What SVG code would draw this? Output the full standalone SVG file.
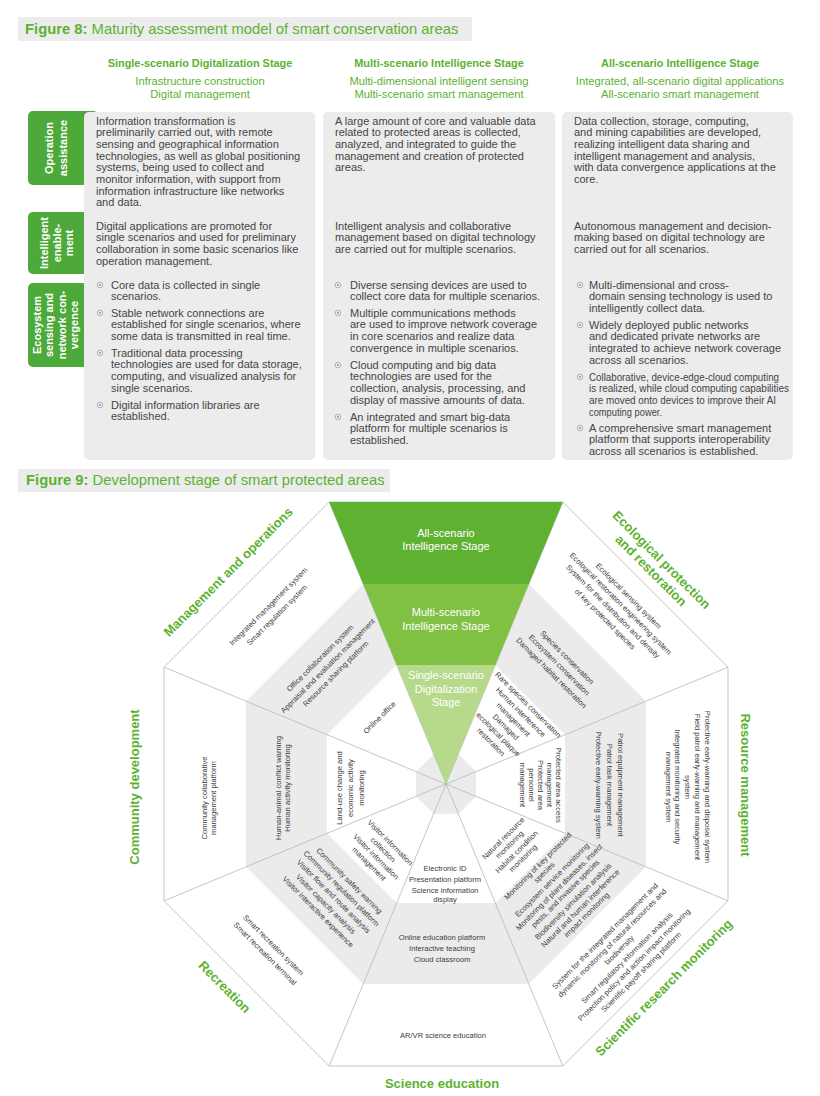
<svg xmlns="http://www.w3.org/2000/svg" width="820" height="1096" viewBox="0 0 820 1096">
<style>
text{font-family:"Liberation Sans",Arial,sans-serif}
.ttl{font-size:14.8px;fill:#5cb230}
.ttl tspan.b{font-weight:bold}
.hdr{font-size:10.9px;font-weight:bold;fill:#5cb230;text-anchor:middle}
.sub{font-size:11.2px;fill:#5cb230;text-anchor:middle}
.body{font-size:11px;fill:#454545}
.tab{font-size:11px;font-weight:bold;fill:#fff;text-anchor:middle;dominant-baseline:central}
.box{fill:#ececec}
.tabr{fill:#4daa3a}
.bul{fill:none;stroke:#9a9a9a;stroke-width:0.7}
.buld{fill:#9a9a9a}
.it{font-size:7.6px;fill:#3c3c3c;text-anchor:middle;dominant-baseline:central}
.lab{font-size:13px;font-weight:bold;fill:#5cb230;text-anchor:middle;dominant-baseline:central}
.tri{font-size:11px;fill:#fff;text-anchor:middle;dominant-baseline:central}
.ln{stroke:#b8b8b8;stroke-width:0.8;fill:none}
</style>

<!-- Figure 8 -->
<g id="fig8-title">
<rect x="18" y="17" width="454" height="24" fill="#ececec"/>
<text class="ttl" x="25" y="34"><tspan class="b">Figure 8:</tspan> Maturity assessment model of smart conservation areas</text>
</g>
<g id="col-headers">
<text class="hdr" x="200" y="67">Single-scenario Digitalization Stage</text>
<text class="sub" x="200" y="85">Infrastructure construction</text>
<text class="sub" x="200" y="98">Digital management</text>
<text class="hdr" x="439" y="67">Multi-scenario Intelligence Stage</text>
<text class="sub" x="439" y="85">Multi-dimensional intelligent sensing</text>
<text class="sub" x="439" y="98">Multi-scenario smart management</text>
<text class="hdr" x="680" y="67">All-scenario Intelligence Stage</text>
<text class="sub" x="680" y="85">Integrated, all-scenario digital applications</text>
<text class="sub" x="680" y="98">All-scenario smart management</text>
</g>
<g id="row-tabs">
<rect class="tabr" x="28" y="111" width="70" height="74" rx="5"/>
<text class="tab" transform="translate(49,148) rotate(-90)">Operation</text>
<text class="tab" transform="translate(63,148) rotate(-90)">assistance</text>
<rect class="tabr" x="28" y="212" width="62" height="62" rx="5"/>
<text class="tab" transform="translate(44,243) rotate(-90)">Intelligent</text>
<text class="tab" transform="translate(57,243) rotate(-90)">enable-</text>
<text class="tab" transform="translate(69,243) rotate(-90)">ment</text>
<rect class="tabr" x="28" y="283" width="62" height="84" rx="5"/>
<text class="tab" transform="translate(37,325) rotate(-90)">Ecosystem</text>
<text class="tab" transform="translate(49,325) rotate(-90)">sensing and</text>
<text class="tab" transform="translate(62,325) rotate(-90)">network con-</text>
<text class="tab" transform="translate(74,325) rotate(-90)">vergence</text>
</g>
<g id="col1">
<rect class="box" x="84" y="112" width="231" height="348" rx="5"/>
<text class="body" x="96" y="124.5">Information transformation is</text>
<text class="body" x="96" y="136.2">preliminarily carried out, with remote</text>
<text class="body" x="96" y="147.9">sensing and geographical information</text>
<text class="body" x="96" y="159.6">technologies, as well as global positioning</text>
<text class="body" x="96" y="171.3">systems, being used to collect and</text>
<text class="body" x="96" y="183">monitor information, with support from</text>
<text class="body" x="96" y="194.7">information infrastructure like networks</text>
<text class="body" x="96" y="206.4">and data.</text>
<text class="body" x="96" y="229.5">Digital applications are promoted for</text>
<text class="body" x="96" y="241.2">single scenarios and used for preliminary</text>
<text class="body" x="96" y="252.9">collaboration in some basic scenarios like</text>
<text class="body" x="96" y="264.6">operation management.</text>
<circle class="bul" cx="100" cy="285" r="2.8"/><circle class="buld" cx="100" cy="285" r="1.1"/>
<text class="body" x="111" y="288.5">Core data is collected in single</text>
<text class="body" x="111" y="300.2">scenarios.</text>
<circle class="bul" cx="100" cy="313" r="2.8"/><circle class="buld" cx="100" cy="313" r="1.1"/>
<text class="body" x="111" y="316.5">Stable network connections are</text>
<text class="body" x="111" y="328.2">established for single scenarios, where</text>
<text class="body" x="111" y="339.9">some data is transmitted in real time.</text>
<circle class="bul" cx="100" cy="353" r="2.8"/><circle class="buld" cx="100" cy="353" r="1.1"/>
<text class="body" x="111" y="356.5">Traditional data processing</text>
<text class="body" x="111" y="368.2">technologies are used for data storage,</text>
<text class="body" x="111" y="379.9">computing, and visualized analysis for</text>
<text class="body" x="111" y="391.6">single scenarios.</text>
<circle class="bul" cx="100" cy="405" r="2.8"/><circle class="buld" cx="100" cy="405" r="1.1"/>
<text class="body" x="111" y="408.5">Digital information libraries are</text>
<text class="body" x="111" y="420.2">established.</text>
</g>
<g id="col2">
<rect class="box" x="323" y="112" width="232" height="348" rx="5"/>
<text class="body" x="335" y="124.5">A large amount of core and valuable data</text>
<text class="body" x="335" y="136.2">related to protected areas is collected,</text>
<text class="body" x="335" y="147.9">analyzed, and integrated to guide the</text>
<text class="body" x="335" y="159.6">management and creation of protected</text>
<text class="body" x="335" y="171.3">areas.</text>
<text class="body" x="335" y="229.5">Intelligent analysis and collaborative</text>
<text class="body" x="335" y="241.2">management based on digital technology</text>
<text class="body" x="335" y="252.9">are carried out for multiple scenarios.</text>
<circle class="bul" cx="338" cy="285" r="2.8"/><circle class="buld" cx="338" cy="285" r="1.1"/>
<text class="body" x="350" y="288.5">Diverse sensing devices are used to</text>
<text class="body" x="350" y="300.2">collect core data for multiple scenarios.</text>
<circle class="bul" cx="338" cy="313" r="2.8"/><circle class="buld" cx="338" cy="313" r="1.1"/>
<text class="body" x="350" y="316.5">Multiple communications methods</text>
<text class="body" x="350" y="328.2">are used to improve network coverage</text>
<text class="body" x="350" y="339.9">in core scenarios and realize data</text>
<text class="body" x="350" y="351.6">convergence in multiple scenarios.</text>
<circle class="bul" cx="338" cy="365" r="2.8"/><circle class="buld" cx="338" cy="365" r="1.1"/>
<text class="body" x="350" y="368.5">Cloud computing and big data</text>
<text class="body" x="350" y="380.2">technologies are used for the</text>
<text class="body" x="350" y="391.9">collection, analysis, processing, and</text>
<text class="body" x="350" y="403.6">display of massive amounts of data.</text>
<circle class="bul" cx="338" cy="417" r="2.8"/><circle class="buld" cx="338" cy="417" r="1.1"/>
<text class="body" x="350" y="420.5">An integrated and smart big-data</text>
<text class="body" x="350" y="432.2">platform for multiple scenarios is</text>
<text class="body" x="350" y="443.9">established.</text>
</g>
<g id="col3">
<rect class="box" x="562" y="112" width="231" height="348" rx="5"/>
<text class="body" x="574" y="124.5">Data collection, storage, computing,</text>
<text class="body" x="574" y="136.2">and mining capabilities are developed,</text>
<text class="body" x="574" y="147.9">realizing intelligent data sharing and</text>
<text class="body" x="574" y="159.6">intelligent management and analysis,</text>
<text class="body" x="574" y="171.3">with data convergence applications at the</text>
<text class="body" x="574" y="183">core.</text>
<text class="body" x="574" y="229.5">Autonomous management and decision-</text>
<text class="body" x="574" y="241.2">making based on digital technology are</text>
<text class="body" x="574" y="252.9">carried out for all scenarios.</text>
<circle class="bul" cx="580" cy="285" r="2.8"/><circle class="buld" cx="580" cy="285" r="1.1"/>
<text class="body" x="589" y="288.5">Multi-dimensional and cross-</text>
<text class="body" x="589" y="300.2">domain sensing technology is used to</text>
<text class="body" x="589" y="311.9">intelligently collect data.</text>
<circle class="bul" cx="580" cy="325" r="2.8"/><circle class="buld" cx="580" cy="325" r="1.1"/>
<text class="body" x="589" y="328.5">Widely deployed public networks</text>
<text class="body" x="589" y="340.2">and dedicated private networks are</text>
<text class="body" x="589" y="351.9">integrated to achieve network coverage</text>
<text class="body" x="589" y="363.6">across all scenarios.</text>
<circle class="bul" cx="580" cy="377" r="2.8"/><circle class="buld" cx="580" cy="377" r="1.1"/>
<text class="body" x="589" y="380.5" textLength="190" lengthAdjust="spacingAndGlyphs">Collaborative, device-edge-cloud computing</text>
<text class="body" x="589" y="392.2" textLength="200" lengthAdjust="spacingAndGlyphs">is realized, while cloud computing capabilities</text>
<text class="body" x="589" y="403.9" textLength="187" lengthAdjust="spacingAndGlyphs">are moved onto devices to improve their AI</text>
<text class="body" x="589" y="415.6" textLength="73" lengthAdjust="spacingAndGlyphs">computing power.</text>
<circle class="bul" cx="580" cy="428" r="2.8"/><circle class="buld" cx="580" cy="428" r="1.1"/>
<text class="body" x="589" y="431.5">A comprehensive smart management</text>
<text class="body" x="589" y="443.2">platform that supports interoperability</text>
<text class="body" x="589" y="454.9">across all scenarios is established.</text>
</g>

<!-- Figure 9 -->
<g id="fig9-title">
<rect x="18" y="469" width="372" height="23" fill="#ececec"/>
<text class="ttl" x="26" y="485"><tspan class="b">Figure 9:</tspan> Development stage of smart protected areas</text>
</g>

<g id="octagon-base">
<polygon points="329.2,502 562.8,502 728,667.2 728,900.8 562.8,1066 329.2,1066 164,900.8 164,667.2" fill="#fff"/>
<polygon points="363.2,584 528.8,584 646,701.2 646,866.8 528.8,984 363.2,984 246,866.8 246,701.2" fill="#ebebeb"/>
<polygon points="396.7,665 495.3,665 565,734.7 565,833.3 495.3,903 396.7,903 327,833.3 327,734.7" fill="#fff"/>
<polygon points="433.6,754 458.4,754 476,771.6 476,796.4 458.4,814 433.6,814 416,796.4 416,771.6" fill="#ebebeb"/>
</g>
<g id="connectors">
<polygon class="ln" points="329.2,502 562.8,502 728,667.2 728,900.8 562.8,1066 329.2,1066 164,900.8 164,667.2"/>
<line class="ln" x1="446" y1="784" x2="329.2" y2="502"/>
<line class="ln" x1="446" y1="784" x2="562.8" y2="502"/>
<line class="ln" x1="446" y1="784" x2="728" y2="667.2"/>
<line class="ln" x1="446" y1="784" x2="728" y2="900.8"/>
<line class="ln" x1="446" y1="784" x2="562.8" y2="1066"/>
<line class="ln" x1="446" y1="784" x2="329.2" y2="1066"/>
<line class="ln" x1="446" y1="784" x2="164" y2="900.8"/>
<line class="ln" x1="446" y1="784" x2="164" y2="667.2"/>
</g>

<g id="stages">
<polygon points="329.2,502 562.8,502 528.8,584 363.2,584" fill="#5fb132"/>
<polygon points="363.2,584 528.8,584 495.3,665 396.7,665" fill="#80c043"/>
<polygon points="396.7,665 495.3,665 446,784" fill="#b6d98b"/>
<text class="tri" x="446" y="533">All-scenario</text>
<text class="tri" x="446" y="546">Intelligence Stage</text>
<text class="tri" x="446" y="612">Multi-scenario</text>
<text class="tri" x="446" y="626">Intelligence Stage</text>
<text class="tri" x="446" y="675">Single-scenario</text>
<text class="tri" x="446" y="688.5">Digitalization</text>
<text class="tri" x="446" y="702">Stage</text>
</g>

<g id="sector-management" transform="rotate(-45 446 784)">
<text class="lab" x="442" y="480">Management and operations</text>
<text class="it" x="446" y="533">Integrated management system</text>
<text class="it" x="446" y="545">Smart regulation system</text>
<text class="it" x="446" y="606">Office collaboration system</text>
<text class="it" x="446" y="617">Appraisal and evaluation management</text>
<text class="it" x="446" y="628">Resource sharing platform</text>
<text class="it" x="446" y="690">Online office</text>
</g>

<g id="sector-ecological" transform="rotate(45 446 784)">
<text class="lab" x="440" y="473">Ecological protection</text>
<text class="lab" x="440" y="488">and restoration</text>
<text class="it" x="442" y="522">Ecological sensing system</text>
<text class="it" x="442" y="533">Ecological restoration engineering system</text>
<text class="it" x="442" y="544">System for the distribution and density</text>
<text class="it" x="442" y="555">of key protected species</text>
<text class="it" x="442" y="609">Species conservation</text>
<text class="it" x="442" y="620">Ecosystem conservation</text>
<text class="it" x="442" y="631">Damaged habitat restoration</text>
<text class="it" x="448" y="670">Rare species conservation</text>
<text class="it" x="448" y="680.5">Human interference</text>
<text class="it" x="448" y="691">management</text>
<text class="it" x="448" y="701.5">Damaged</text>
<text class="it" x="448" y="712">ecological plaque</text>
<text class="it" x="448" y="722.5">restoration</text>
</g>

<g id="sector-resource" transform="rotate(90 446 784)">
<text class="lab" x="447" y="485">Resource management</text>
<text class="it" x="449" y="523">Protective early-warning and disposal system</text>
<text class="it" x="449" y="533">Field patrol early-warning and management</text>
<text class="it" x="449" y="543">system</text>
<text class="it" x="449" y="553">Integrated monitoring and security</text>
<text class="it" x="449" y="562">management system</text>
<text class="it" x="447" y="610">Patrol equipment management</text>
<text class="it" x="447" y="621">Patrol task management</text>
<text class="it" x="447" y="632">Protective early-warning system</text>
<text class="it" x="447" y="672">Protected area access</text>
<text class="it" x="447" y="681">management</text>
<text class="it" x="447" y="690">Protected area</text>
<text class="it" x="447" y="699">personnel</text>
<text class="it" x="447" y="708">management</text>
</g>

<g id="sector-research" transform="rotate(-45 446 784)">
<text class="lab" x="456" y="1082">Scientific research monitoring</text>
<text class="it" x="451" y="1004">System for the integrated management and</text>
<text class="it" x="451" y="1014">dynamic monitoring of natural resources and</text>
<text class="it" x="451" y="1024">biodiversity</text>
<text class="it" x="451" y="1035">Smart regulatory information analysis</text>
<text class="it" x="451" y="1045">Protection policy and action impact monitoring</text>
<text class="it" x="451" y="1055">Scientific payoff sharing platform</text>
<text class="it" x="453" y="907">Monitoring of key protected</text>
<text class="it" x="453" y="916">species</text>
<text class="it" x="453" y="927">Ecosystem service monitoring</text>
<text class="it" x="453" y="937">Monitoring of plant diseases, insect</text>
<text class="it" x="453" y="946">pests, and invasive species</text>
<text class="it" x="453" y="957">Biodiversity simulation analysis</text>
<text class="it" x="453" y="967">Natural and human interference</text>
<text class="it" x="453" y="976">impact monitoring</text>
<text class="it" x="448" y="863">Natural resource</text>
<text class="it" x="448" y="872">monitoring</text>
<text class="it" x="448" y="882">Habitat condition</text>
<text class="it" x="448" y="891">monitoring</text>
</g>

<g id="sector-education">
<text class="lab" x="442" y="1083">Science education</text>
<text class="it" x="443" y="1035">AR/VR science education</text>
<text class="it" x="442" y="937">Online education platform</text>
<text class="it" x="442" y="948">Interactive teaching</text>
<text class="it" x="442" y="959">Cloud classroom</text>
<text class="it" x="445" y="868">Electronic ID</text>
<text class="it" x="445" y="879">Presentation platform</text>
<text class="it" x="445" y="890">Science information</text>
<text class="it" x="445" y="899">display</text>
</g>

<g id="sector-recreation" transform="rotate(45 446 784)">
<text class="lab" x="433" y="1084">Recreation</text>
<text class="it" x="438" y="1020">Smart recreation system</text>
<text class="it" x="438" y="1032">Smart recreation terminal</text>
<text class="it" x="446" y="921">Community safety warning</text>
<text class="it" x="446" y="932">Community regulation platform</text>
<text class="it" x="446" y="943">Visitor flow and route analysis</text>
<text class="it" x="446" y="954">Visitor capacity analysis</text>
<text class="it" x="446" y="965">Visitor interactive experience</text>
<text class="it" x="448" y="865">Visitor information</text>
<text class="it" x="448" y="875">collection</text>
<text class="it" x="448" y="885">Visitor information</text>
<text class="it" x="448" y="895">management</text>
</g>

<g id="sector-community" transform="rotate(-90 446 784)">
<text class="lab" x="443" y="472">Community development</text>
<text class="it" x="432" y="542">Community collaborative</text>
<text class="it" x="432" y="551">management platform</text>
<text class="it" x="442" y="616">Human-animal conflict warning</text>
<text class="it" x="442" y="625">Human activity monitoring</text>
<text class="it" x="442" y="677">Land-use change and</text>
<text class="it" x="442" y="688">economic activity</text>
<text class="it" x="442" y="699">monitoring</text>
</g>
</svg>
